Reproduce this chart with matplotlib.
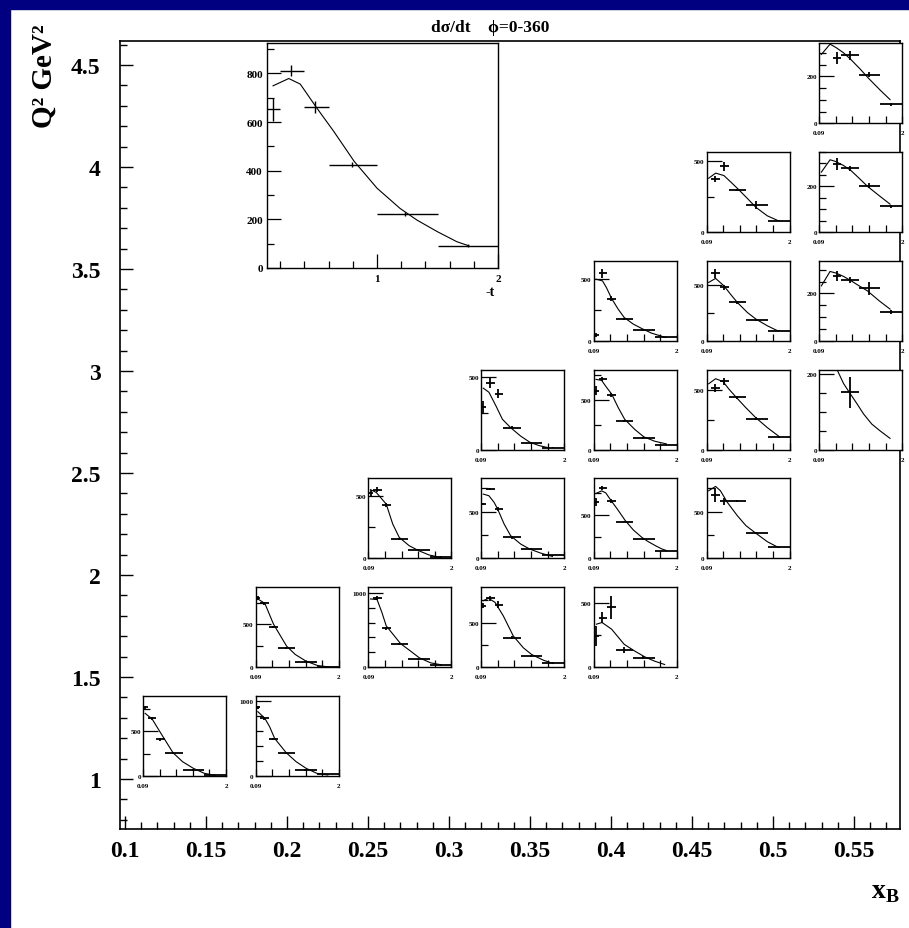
"""d sigma/dt vs -t in (xB, Q2) bins, ROOT-style grid of small pads."""
import numpy as np
import matplotlib
matplotlib.use("Agg")
import matplotlib.pyplot as plt
from matplotlib.patches import Rectangle
from matplotlib.ticker import MultipleLocator, FuncFormatter

nan = np.nan

# -t bins (same in every pad)
t_edges = [0.09, 0.2, 0.4, 0.6, 1.0, 1.5, 2.0]
t_mean = [0.14, 0.29, 0.49, 0.79, 1.23, 1.75]

# main axis ticks
xb_ticks = [0.1, 0.15, 0.2, 0.25, 0.3, 0.35, 0.4, 0.45, 0.5, 0.55]
xb_labels = ["0.1", "0.15", "0.2", "0.25", "0.3", "0.35", "0.4", "0.45", "0.5", "0.55"]
q2_ticks = [1, 1.5, 2, 2.5, 3, 3.5, 4, 4.5]
q2_labels = ["1", "1.5", "2", "2.5", "3", "3.5", "4", "4.5"]

# pad placement in the (xB, Q2) grid
pad_row = [0, 0, 1, 1, 1, 1, 2, 2, 2, 2, 3, 3, 3, 3, 4, 4, 4, 5, 5, 6]
pad_col = [0, 1, 1, 2, 3, 4, 2, 3, 4, 5, 3, 4, 5, 6, 4, 5, 6, 5, 6, 6]
y_top = [889, 1062, 930, 1077, 895, 623, 645, 857, 923, 857,
         551, 801, 666, 213, 649, 714, 338, 564, 350, 342]
big_pad = 8  # this pad is also drawn enlarged

xsec = [
    [763, 641, 407, 259, 67, 11],
    [911, 765, 487, 301, 80, 27],
    [801, 742, 469, 227, 66, 8],
    [nan, 928, 525, 308, 104, 23],
    [688, 771, 699, 331, 124, 49],
    [243, 387, 466, 134, 73, nan],
    [527, 554, 430, 156, 70, 13],
    [582, 743, 529, 225, 100, 36],
    [652, 811, 663, 425, 223, 91],
    [nan, 679, 611, 611, 268, 118],
    [291, 460, 384, 151, 47, 12],
    [591, 703, 551, 287, 118, 51],
    [nan, 511, 567, 435, 258, 107],
    [nan, nan, nan, 153, nan, nan],
    [46, 546, 343, 176, 86, 27],
    [nan, 601, 476, 342, 188, 89],
    [nan, nan, 275, 256, 221, 122],
    [nan, 374, 464, 296, 190, 81],
    [nan, nan, 299, 279, 203, 112],
    [nan, nan, 280, 290, 207, 80],
]
xsec_err = [
    [20, 18, 15, 10, 8, 4],
    [20, 18, 15, 10, 8, 5],
    [25, 18, 15, 10, 8, 5],
    [0, 30, 20, 12, 10, 6],
    [25, 25, 40, 15, 10, 6],
    [78, 40, 89, 20, 12, 0],
    [25, 20, 15, 10, 8, 5],
    [15, 15, 25, 12, 8, 5],
    [48, 22, 24, 10, 8, 6],
    [0, 71, 41, 10, 10, 8],
    [47, 38, 30, 10, 6, 4],
    [46, 20, 20, 10, 8, 5],
    [0, 31, 30, 12, 10, 8],
    [0, 0, 0, 41, 0, 0],
    [15, 34, 20, 10, 8, 5],
    [0, 37, 20, 12, 8, 5],
    [0, 0, 21, 12, 28, 10],
    [0, 24, 32, 10, 30, 6],
    [0, 0, 26, 10, 10, 8],
    [0, 0, 25, 18, 10, 6],
]

fit_t = [
    [0.14, 0.30, 0.525, 0.78, 1.0, 1.25, 1.50, 1.75],
    [0.14, 0.30, 0.41, 0.525, 0.79, 1.02, 1.25, 1.50, 1.75],
    [0.14, 0.30, 0.50, 0.80, 1.00, 1.25, 1.51, 1.75],
    [0.14, 0.29, 0.40, 0.50, 0.83, 1.06, 1.26, 1.52, 1.77],
    [0.14, 0.26, 0.41, 0.60, 0.83, 1.06, 1.25, 1.52, 1.75],
    [0.15, 0.28, 0.50, 0.79, 1.03, 1.26, 1.49, 1.72],
    [0.14, 0.27, 0.50, 0.65, 0.80, 1.03, 1.25, 1.49, 1.76],
    [0.14, 0.27, 0.39, 0.47, 0.62, 0.77, 1.00, 1.21, 1.46, 1.73],
    [0.14, 0.27, 0.365, 0.50, 0.64, 0.81, 1.0, 1.19, 1.33, 1.5, 1.66, 1.76],
    [0.14, 0.30, 0.41, 0.57, 0.80, 1.0, 1.23, 1.49, 1.74],
    [0.14, 0.27, 0.43, 0.58, 0.77, 1.0, 1.21, 1.42, 1.65],
    [0.14, 0.27, 0.38, 0.50, 0.65, 0.80, 1.03, 1.24, 1.49, 1.76],
    [0.14, 0.30, 0.47, 0.60, 0.76, 0.99, 1.22, 1.49, 1.75],
    [0.50, 0.65, 0.78, 0.96, 1.11, 1.30, 1.49, 1.72],
    [0.14, 0.29, 0.38, 0.50, 0.65, 0.79, 1.0, 1.22, 1.42, 1.74],
    [0.14, 0.30, 0.49, 0.64, 0.80, 1.03, 1.23, 1.49, 1.73],
    [0.14, 0.34, 0.48, 0.65, 0.82, 1.01, 1.20, 1.47, 1.72],
    [0.14, 0.30, 0.49, 0.64, 0.80, 1.03, 1.23, 1.49, 1.73],
    [0.14, 0.34, 0.46, 0.65, 0.82, 1.01, 1.20, 1.47, 1.72],
    [0.14, 0.34, 0.48, 0.65, 0.82, 1.03, 1.22, 1.49, 1.72],
]
fit_v = [
    [696, 633, 456, 259, 159, 85, 30, 7],
    [854, 765, 655, 500, 310, 190, 102, 35, 13],
    [793, 742, 500, 246, 148, 70, 20, 4],
    [919, 910, 738, 557, 317, 217, 127, 59, 32],
    [744, 771, 726, 575, 350, 218, 143, 79, 41],
    [335, 348, 296, 178, 126, 81, 47, 21],
    [554, 532, 438, 277, 169, 102, 62, 27, 8],
    [689, 671, 600, 529, 368, 243, 154, 100, 57, 21],
    [749, 779, 756, 659, 563, 439, 328, 245, 197, 149, 108, 91],
    [725, 771, 725, 600, 457, 350, 268, 179, 118],
    [423, 395, 302, 209, 151, 93, 51, 28, 12],
    [703, 693, 625, 557, 422, 304, 203, 128, 84, 57],
    [548, 590, 567, 506, 441, 351, 267, 183, 112],
    [213, 176, 153, 122, 95, 68, 50, 30],
    [500, 486, 432, 343, 257, 189, 135, 95, 62, 27],
    [521, 557, 491, 417, 342, 253, 193, 134, 89],
    [232, 293, 286, 272, 254, 232, 211, 169, 134],
    [379, 415, 398, 355, 308, 237, 173, 114, 81],
    [262, 316, 309, 291, 269, 235, 200, 159, 122],
    [294, 338, 323, 301, 272, 232, 193, 142, 101],
]

plt.rcParams["font.family"] = ["Liberation Serif", "DejaVu Serif"]
plt.rcParams["font.weight"] = "bold"
plt.rcParams["mathtext.fontset"] = "custom"
plt.rcParams["mathtext.rm"] = "Liberation Serif"
plt.rcParams["mathtext.bf"] = "Liberation Serif:bold"

W, H = 909, 929


def px(x0, y0, w, h):
    return [x0 / W, 1 - (y0 + h) / H, w / W, h / H]


def draw_points(a, i, lw):
    lo = np.array(t_mean) - np.array(t_edges[:-1])
    hi = np.array(t_edges[1:]) - np.array(t_mean)
    a.errorbar(t_mean, xsec[i], xerr=[lo, hi], yerr=xsec_err[i], fmt="none",
               ecolor="k", elinewidth=lw, capsize=0)
    a.plot(fit_t[i], fit_v[i], color="k", lw=0.8)


def small_pad(fig, i):
    x0 = 143 + 112.7 * pad_col[i]
    y0 = 697 - 108.8 * pad_row[i]
    a = fig.add_axes(px(x0, y0, 83, 80))
    draw_points(a, i, 1.3)
    top = y_top[i]
    a.set_xlim(0.09, 2.0); a.set_ylim(0, top)
    if top > 1000:
        major, minor = 1000, 200
    elif top > 500:
        major, minor = 500, 250
    else:
        major, minor = 200, 50
    a.yaxis.set_major_locator(MultipleLocator(major))
    a.yaxis.set_minor_locator(MultipleLocator(minor))
    a.yaxis.set_major_formatter(FuncFormatter(lambda v, p: f"{v:.0f}"))
    a.set_xticks(np.linspace(0.09, 2.0, 6))
    a.set_xticklabels(["0.09", "", "", "", "", "2"])
    a.tick_params(axis="y", which="major", direction="in", length=10.8,
                  width=0.9, pad=1.5, labelsize=5)
    a.tick_params(axis="y", which="minor", direction="in", length=5, width=0.9)
    a.tick_params(axis="x", direction="in", length=5, width=0.9, pad=5,
                  labelsize=5)
    for s in a.spines.values():
        s.set_linewidth(1.0)
    return a


def big_panel(fig, i):
    a = fig.add_axes(px(267, 44, 231, 225))
    draw_points(a, i, 1.0)
    a.set_xlim(0.09, 2.0); a.set_ylim(0, 925)
    a.xaxis.set_major_locator(MultipleLocator(1))
    a.xaxis.set_minor_locator(MultipleLocator(0.2))
    a.yaxis.set_major_locator(MultipleLocator(200))
    a.yaxis.set_minor_locator(MultipleLocator(100))
    a.xaxis.set_major_formatter(FuncFormatter(lambda v, p: f"{v:.0f}"))
    a.yaxis.set_major_formatter(FuncFormatter(lambda v, p: f"{v:.0f}"))
    a.tick_params(which="major", direction="in", length=10, width=0.9,
                  labelsize=8)
    a.tick_params(which="minor", direction="in", length=5, width=0.9)
    a.tick_params(axis="y", pad=3)
    a.tick_params(axis="x", pad=4)
    for s in a.spines.values():
        s.set_linewidth(1.0)
    a.text(0.965, -0.105, "-t", transform=a.transAxes, ha="center", va="center",
           fontsize=10)


def main():
    fig = plt.figure(figsize=(W / 100, H / 100), dpi=100)
    fig.add_artist(Rectangle((0, 1 - 10 / H), 1, 10 / H, transform=fig.transFigure,
                             color="#000080", zorder=10))
    fig.add_artist(Rectangle((0, 0), 10 / W, 1, transform=fig.transFigure,
                             color="#000080", zorder=10))

    ax = fig.add_axes(px(120, 42, 780, 788))
    ax.set_xlim(0.0969, 0.5784); ax.set_ylim(0.755, 4.618)
    ax.set_xticks(xb_ticks); ax.set_xticklabels(xb_labels)
    ax.set_yticks(q2_ticks); ax.set_yticklabels(q2_labels)
    ax.xaxis.set_minor_locator(MultipleLocator(0.01))
    ax.yaxis.set_minor_locator(MultipleLocator(0.1))
    ax.tick_params(which="major", direction="in", length=9.5, width=1.0,
                   labelsize=17)
    ax.tick_params(which="minor", direction="in", length=5, width=1.0)
    ax.tick_params(axis="y", pad=14)
    ax.tick_params(axis="x", pad=8)
    for s in ax.spines.values():
        s.set_linewidth(1.2)

    fig.text(490 / W, 1 - 28 / H, "dσ/dt    ϕ=0-360", ha="center", va="center",
             fontsize=12.5)
    fig.text(44 / W, 1 - 76 / H, "Q² GeV²", rotation=90, ha="center",
             va="center", fontsize=21)
    fig.text(885 / W, 1 - 893 / H, r"$\mathbf{x}_\mathbf{B}$", ha="center",
             va="center", fontsize=20)

    for i in range(len(xsec)):
        small_pad(fig, i)
    big_panel(fig, big_pad)

    fig.savefig("out.png", dpi=100)


if __name__ == "__main__":
    main()
